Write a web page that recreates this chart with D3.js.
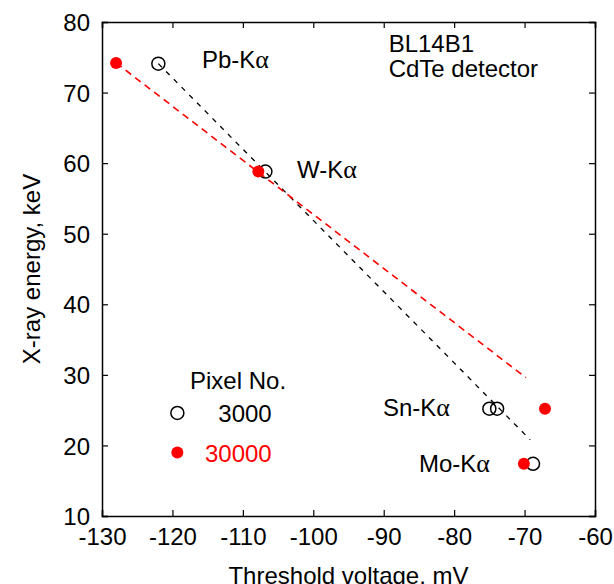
<!DOCTYPE html>
<html>
<head>
<meta charset="utf-8">
<script src="https://cdn.jsdelivr.net/npm/d3@7"></script>
<style>
  body { margin: 0; background: #fff; }
  svg text { font-family: "Liberation Sans", Arial, sans-serif; }
</style>
</head>
<body>
<svg id="chart" width="614" height="584"></svg>
<script>
// pixel 3000 (open circles)
const pix3000 = [
  { v: -122.0, e: 74.1 },
  { v: -106.8, e: 58.8 },
  { v: -75.0, e: 25.2 },
  { v: -73.9, e: 25.2 },
  { v: -68.8, e: 17.4 },
];
// pixel 30000 (red dots)
const pix30000 = [
  { v: -128.0, e: 74.2 },
  { v: -107.8, e: 58.8 },
  { v: -67.1, e: 25.2 },
  { v: -70.1, e: 17.4 },
];
// dashed fit lines (end points)
const fit3000 = [{ v: -122.0, e: 74.1 }, { v: -69.2, e: 20.8 }];
const fit30000 = [{ v: -128.0, e: 74.2 }, { v: -69.8, e: 29.6 }];

const lineLabels = [
  { name: "Pb-K", v: -115.8, e: 73.5 },
  { name: "W-K", v: -102.3, e: 57.9 },
  { name: "Sn-K", v: -90.1, e: 24.2 },
  { name: "Mo-K", v: -85.0, e: 16.3 },
];

const xTicks = [-130, -120, -110, -100, -90, -80, -70, -60];
const yTicks = [10, 20, 30, 40, 50, 60, 70, 80];

const margin = { top: 22, right: 19, bottom: 68, left: 102 };
const width = 614, height = 584;
const w = width - margin.left - margin.right;
const h = height - margin.top - margin.bottom;

const svg = d3.select("#chart");
const chart = svg.append("g").attr("transform", `translate(${margin.left},${margin.top})`);

const x = d3.scaleLinear().domain([-130, -60]).range([0, w]);
const y = d3.scaleLinear().domain([10, 80]).range([h, 0]);

const tickLen = 6;
const fontSize = 24;

// axes (inward ticks, mirrored)
const xAxisB = chart.append("g").attr("transform", `translate(0,${h})`)
  .call(d3.axisBottom(x).tickValues(xTicks).tickSize(-tickLen).tickPadding(12).tickFormat((d) => String(d)));
const xAxisT = chart.append("g")
  .call(d3.axisTop(x).tickValues(xTicks).tickSize(-tickLen).tickFormat(""));
const yAxisL = chart.append("g")
  .call(d3.axisLeft(y).tickValues(yTicks).tickSize(-tickLen).tickPadding(12).tickFormat((d) => String(d)));
const yAxisR = chart.append("g").attr("transform", `translate(${w},0)`)
  .call(d3.axisRight(y).tickValues(yTicks).tickSize(-tickLen).tickFormat(""));

[xAxisB, xAxisT, yAxisL, yAxisR].forEach((g) => {
  g.select(".domain").attr("stroke", "#000").attr("stroke-width", 1.5);
  g.selectAll(".tick line").attr("stroke", "#000").attr("stroke-width", 1.2);
  g.selectAll(".tick text").attr("font-size", fontSize).attr("fill", "#000");
});
yAxisL.selectAll(".tick text").attr("dy", "0.36em");

// axis titles
svg.append("text")
  .attr("x", margin.left + w / 2)
  .attr("y", 584)
  .attr("text-anchor", "middle")
  .attr("font-size", fontSize)
  .text("Threshold voltage, mV");

svg.append("text")
  .attr("transform", `translate(40,${margin.top + h / 2}) rotate(-90)`)
  .attr("text-anchor", "middle")
  .attr("font-size", fontSize)
  .text("X-ray energy, keV");

// fit lines
const line = d3.line().x((d) => x(d.v)).y((d) => y(d.e));
chart.append("path").datum(fit3000)
  .attr("d", line).attr("fill", "none")
  .attr("stroke", "#000").attr("stroke-width", 1.3).attr("stroke-dasharray", "5,6");
chart.append("path").datum(fit30000)
  .attr("d", line).attr("fill", "none")
  .attr("stroke", "#ff0000").attr("stroke-width", 1.6).attr("stroke-dasharray", "7,5");

// points
chart.selectAll("circle.p3000").data(pix3000).join("circle")
  .attr("class", "p3000")
  .attr("cx", (d) => x(d.v)).attr("cy", (d) => y(d.e)).attr("r", 6.5)
  .attr("fill", "none").attr("stroke", "#000").attr("stroke-width", 1.5);
chart.selectAll("circle.p30000").data(pix30000).join("circle")
  .attr("class", "p30000")
  .attr("cx", (d) => x(d.v)).attr("cy", (d) => y(d.e)).attr("r", 6)
  .attr("fill", "#ff0000");

// emission line labels
const lbl = chart.selectAll("text.lbl").data(lineLabels).join("text")
  .attr("class", "lbl")
  .attr("x", (d) => x(d.v)).attr("y", (d) => y(d.e))
  .attr("font-size", fontSize);
lbl.append("tspan").text((d) => d.name);
lbl.append("tspan").attr("font-family", "'Liberation Serif', serif").attr("font-size", 26).text("α");

// beamline note
const note = chart.append("text").attr("font-size", fontSize);
note.append("tspan").attr("x", x(-89.3)).attr("y", y(75.8)).text("BL14B1");
note.append("tspan").attr("x", x(-89.3)).attr("y", y(72.2)).text("CdTe detector");

// legend
const legend = chart.append("g");
legend.append("text").attr("x", x(-117.5)).attr("y", y(28.0)).attr("font-size", fontSize).text("Pixel No.");
legend.append("circle").attr("cx", x(-119.3)).attr("cy", y(24.6)).attr("r", 6.5)
  .attr("fill", "none").attr("stroke", "#000").attr("stroke-width", 1.5);
legend.append("text").attr("x", x(-105.9)).attr("y", y(23.3)).attr("text-anchor", "end")
  .attr("font-size", fontSize).text("3000");
legend.append("circle").attr("cx", x(-119.3)).attr("cy", y(19.0)).attr("r", 6)
  .attr("fill", "#ff0000");
legend.append("text").attr("x", x(-105.9)).attr("y", y(17.7)).attr("text-anchor", "end")
  .attr("font-size", fontSize).attr("fill", "#ff0000").text("30000");
</script>
</body>
</html>
